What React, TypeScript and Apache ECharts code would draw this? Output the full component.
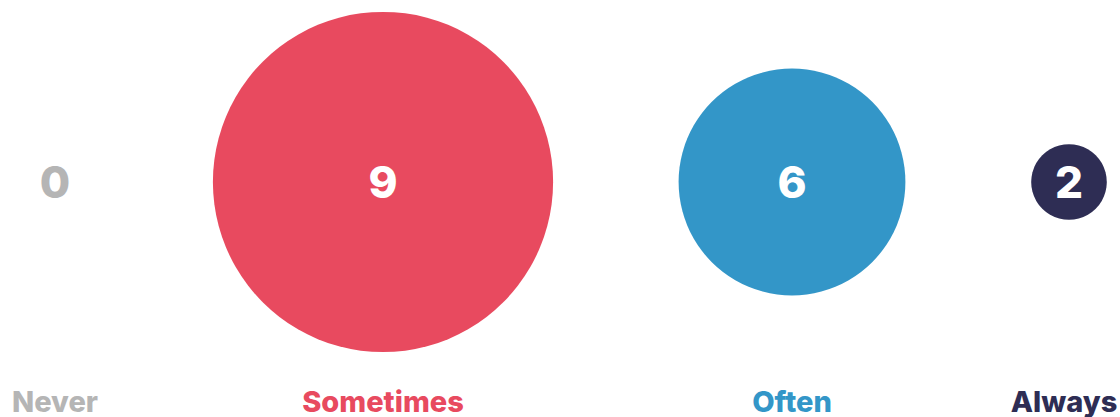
import React, { useEffect, useRef } from "react";
import * as echarts from "echarts";

const categories = ["Never", "Sometimes", "Often", "Always"];
const values = [0, 9, 6, 2];
const xPositions = [55, 383, 792, 1069];
const colors = ["#b5b5b5", "#e84a5f", "#3396c8", "#2e2d54"];

const FONT = "Inter";

export default function App() {
  const ref = useRef<HTMLDivElement>(null);
  useEffect(() => {
    document.body.style.margin = "0";
    const chart = echarts.init(ref.current!, null, { renderer: "svg" });
    const bubbleRow = 182;
    const labelRow = 401;
    const W = 1120;
    chart.setOption({
      animation: false,
      backgroundColor: "#ffffff",
      grid: { left: 0, right: 0, top: 0, bottom: 0 },
      xAxis: { type: "value", min: 0, max: W, show: false },
      yAxis: { type: "value", min: 0, max: 417, inverse: true, show: false },
      series: [
        {
          type: "scatter",
          symbolSize: (d: number[]) => d[2] * 37.8,
          itemStyle: { opacity: 1 },
          data: categories.map((c, i) => ({
            name: c,
            value: [xPositions[i], bubbleRow, values[i]],
            itemStyle: { color: colors[i], opacity: 1 },
            label: {
              color: values[i] === 0 ? colors[i] : "#ffffff",
            },
          })),
          label: {
            show: true,
            position: "inside",
            formatter: (p: any) => String(p.value[2]),
            fontFamily: FONT,
            fontWeight: 800,
            fontSize: 44,
            opacity: 1,
          },
          z: 2,
        },
        {
          type: "scatter",
          symbolSize: 0,
          itemStyle: { opacity: 1 },
          data: categories.map((c, i) => ({
            name: c,
            value: [xPositions[i], labelRow],
            label: {
              color: colors[i],
              offset: [Math.min(0, W - 2 - (xPositions[i] + 54)), 0],
            },
          })),
          label: {
            show: true,
            position: "inside",
            formatter: (p: any) => p.name,
            fontFamily: FONT,
            fontWeight: 800,
            fontSize: 29,
            opacity: 1,
          },
        },
      ],
    });
    return () => chart.dispose();
  }, []);
  return <div ref={ref} style={{ width: 1120, height: 417 }} />;
}
